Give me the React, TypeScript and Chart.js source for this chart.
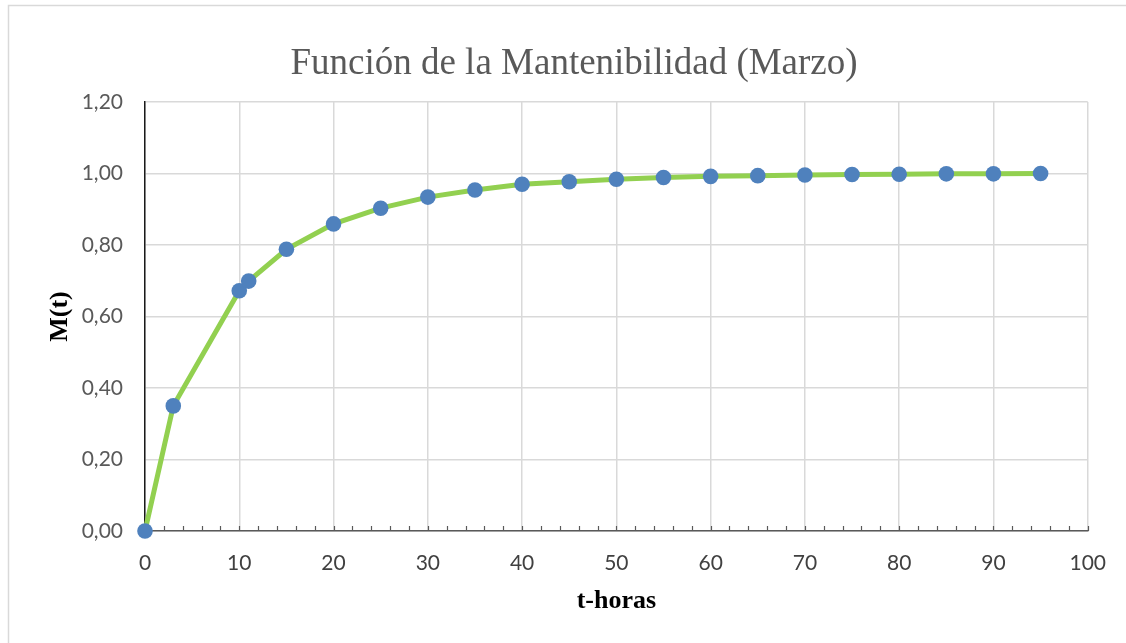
import React, { useEffect, useRef } from "react";
import { Chart, registerables } from "chart.js";

Chart.register(...registerables);

const titleText = "Función de la Mantenibilidad (Marzo)";
const xTitle = "t-horas";
const yTitle = "M(t)";
const hours = [0, 3, 10, 11, 15, 20, 25, 30, 35, 40, 45, 50, 55, 60, 65, 70, 75, 80, 85, 90, 95];
const maintainability = [0, 0.35, 0.672, 0.699, 0.788, 0.859, 0.903, 0.934, 0.954, 0.97, 0.977, 0.984, 0.989, 0.992, 0.994, 0.996, 0.997, 0.998, 0.999, 0.999, 1.0];
const xMin = 0;
const xMax = 100;
const xStep = 10;
const xMinorStep = 2;
const yMin = 0;
const yMax = 1.2;
const yStep = 0.2;

const decor = {
  id: "decor",
  beforeDraw(chart: any) {
    const ctx = chart.ctx;
    ctx.save();
    ctx.fillStyle = "#ffffff";
    ctx.fillRect(0, 0, chart.width, chart.height);
    ctx.strokeStyle = "#D9D9D9";
    ctx.lineWidth = 1.5;
    ctx.strokeRect(8.5, 5.5, chart.width + 100, chart.height + 100);
    ctx.restore();
  },
  beforeDatasetsDraw(chart: any) {
    const ctx = chart.ctx;
    const xs = chart.scales.x;
    const y0 = chart.chartArea.bottom;
    ctx.save();
    ctx.strokeStyle = "#595959";
    ctx.lineWidth = 1.2;
    for (let v = xMin; v <= xMax; v += xMinorStep) {
      const px = Math.round(xs.getPixelForValue(v)) + 0.5;
      ctx.beginPath();
      ctx.moveTo(px, y0);
      ctx.lineTo(px, y0 - 5);
      ctx.stroke();
    }
    ctx.restore();
  },
  afterDraw(chart: any) {
    const ctx = chart.ctx;
    ctx.save();
    ctx.fillStyle = "#595959";
    ctx.font = "37px 'Liberation Serif', 'Times New Roman', serif";
    ctx.textAlign = "center";
    ctx.textBaseline = "alphabetic";
    ctx.fillText(titleText, 574, 74);
    ctx.restore();
  },
};

export default function App() {
  const ref = useRef<HTMLCanvasElement | null>(null);
  useEffect(() => {
    if (!ref.current) return;
    const chart = new Chart(ref.current, {
      type: "scatter",
      data: {
        datasets: [
          {
            data: hours.map((h, i) => ({ x: h, y: maintainability[i] })),
            showLine: true,
            clip: false,
            borderColor: "#92D050",
            borderWidth: 5,
            tension: 0,
            pointRadius: 7.8,
            pointBackgroundColor: "#4F81BD",
            pointBorderColor: "#4F81BD",
            pointBorderWidth: 0,
          },
        ],
      },
      options: {
        responsive: false,
        animation: false,
        devicePixelRatio: 1,
        layout: { padding: { top: 102, right: 38, left: 0, bottom: 0 } },
        plugins: { legend: { display: false }, tooltip: { enabled: false }, title: { display: false } },
        scales: {
          x: {
            type: "linear",
            min: xMin,
            max: xMax,
            ticks: {
              stepSize: xStep,
              padding: 20,
              color: "#404040",
              font: { family: "Lato", size: 21 },
            },
            grid: { color: "#D9D9D9", lineWidth: 1.5, drawTicks: false },
            border: { color: "#595959", width: 1.5 },
            title: {
              display: true,
              text: xTitle,
              color: "#000000",
              font: { family: "'Liberation Serif'", size: 26, weight: "bold" },
              padding: { top: 0, bottom: 26 },
            },
            afterFit: (s: any) => {
              s.height = 112;
            },
          },
          y: {
            type: "linear",
            min: yMin,
            max: yMax,
            ticks: {
              stepSize: yStep,
              padding: 22,
              color: "#595959",
              font: { family: "Lato", size: 21 },
              callback: (v: any) => Number(v).toFixed(2).replace(".", ","),
            },
            grid: { color: "#D9D9D9", lineWidth: 1.5, drawTicks: false },
            border: { color: "#1a1a1a", width: 1.5 },
            title: {
              display: true,
              text: yTitle,
              color: "#000000",
              font: { family: "'Liberation Serif'", size: 26, weight: "bold" },
              padding: { top: 45, bottom: 0 },
            },
            afterFit: (s: any) => {
              s.width = 145;
            },
          },
        },
      },
      plugins: [decor],
    });
    return () => chart.destroy();
  }, []);
  return (
    <div style={{ position: "absolute", left: 0, top: 0, width: 1126, height: 643 }}>
      <canvas ref={ref} width={1126} height={643} />
    </div>
  );
}
